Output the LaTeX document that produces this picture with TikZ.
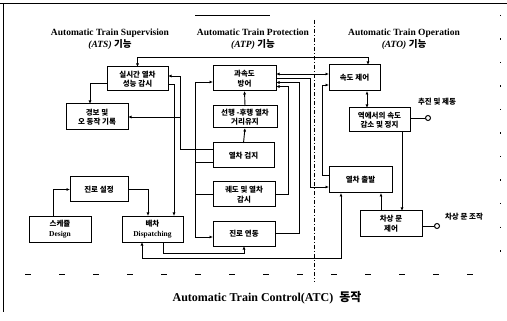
\documentclass[tikz,border=0pt]{standalone}
\usepackage{fontspec}
\setmainfont{Liberation Serif}
\newfontfamily\kr{Noto Sans CJK KR}
\usetikzlibrary{calc,arrows.meta}
\begin{document}
\begin{tikzpicture}[x=1pt,y=-1pt,
  box/.style={draw,line width=1pt,inner sep=0pt,outer sep=0pt,align=center,font=\kr\bfseries\fontsize{7.5}{9.5}\selectfont},
  conn/.style={line width=0.9pt},
  >={Latex[length=3.5pt,width=3pt]},
  circ/.style={circle,draw,line width=1pt,fill=white,minimum size=5pt,inner sep=0pt},
  hdr/.style={align=center,font=\bfseries\fontsize{9.5}{12}\selectfont},
  lbl/.style={font=\kr\bfseries\fontsize{7.5}{9}\selectfont}]
\useasboundingbox (0,0) rectangle (507,321);
% frame
\draw[line width=1pt] (0,4) -- (507,4);
\draw[line width=0.8pt] (3,4) -- (3,312);
\draw[line width=0.8pt,dash pattern=on 1.5pt off 22pt] (500,15) -- (500,270);
\draw[line width=0.8pt,dash pattern=on 6pt off 28pt] (25,274) -- (485,274);
\draw[line width=0.7pt,dash pattern=on 4pt off 2pt on 1pt off 2pt] (314,20) -- (314,282);
\draw[line width=0.4pt] (195,15) -- (270,15);
% headers
\node[hdr] (h1) at (110,39) {Automatic Train Supervision\\{\itshape (ATS)} {\kr 기능}};
\node[hdr] (h2) at (253,39) {Automatic Train Protection\\{\itshape (ATP)} {\kr 기능}};
\node[hdr] (h3) at (404,39) {Automatic Train Operation\\{\itshape (ATO)} {\kr 기능}};
\node[font=\bfseries\fontsize{12}{14}\selectfont] (tt) at (267,298) {Automatic Train Control(ATC)\ \ {\kr 동작}};
% boxes
\node[box,minimum width=61pt,minimum height=24pt] (n1) at (137.5,79) {실시간 열차\\성능 감시};
\node[box,minimum width=62pt,minimum height=26pt] (n2) at (97,117) {경보 및\\오 동작 기록};
\node[box,minimum width=63pt,minimum height=25pt] (n3) at (244.5,78.5) {과속도\\방어};
\node[box,minimum width=64pt,minimum height=22pt] (n4) at (245,117) {선행 -후행 열차\\거리유지};
\node[box,minimum width=51pt,minimum height=26pt] (n5) at (354.5,78) {속도 제어};
\node[box,minimum width=61pt,minimum height=24pt] (n6) at (379.5,120) {역에서의 속도\\감소 및 정지};
\node[box,minimum width=61pt,minimum height=25pt] (n7) at (243.5,155.5) {열차 검지};
\node[box,minimum width=62pt,minimum height=25pt] (n8) at (244,194.5) {궤도 및 열차\\감시};
\node[box,minimum width=62pt,minimum height=25pt] (n9) at (244,233.5) {진로 연동};
\node[box,minimum width=58pt,minimum height=25pt] (n10) at (99,189.5) {진로 설정};
\node[box,minimum width=62pt,minimum height=26pt] (n11) at (60,229) {스케쥴\\{\rmfamily\bfseries Design}};
\node[box,minimum width=61pt,minimum height=26pt] (n12) at (152.5,229) {배차\\{\rmfamily\bfseries Dispatching}};
\node[box,minimum width=63pt,minimum height=26pt] (n13) at (360.5,180) {열차 출발};
\node[box,minimum width=62pt,minimum height=25pt] (n14) at (391,223.5) {차상 문\\제어};
% outputs
\node[circ] (c1) at (428,118) {};
\node[circ] (c2) at (437,226) {};
\node[lbl] (l1) at (437,102) {추진 및 제동};
\node[lbl] (l2) at (464,217) {차상 문 조작};
\draw[conn] (c1.west) -- (c1.west -| n6.east);
\draw[conn] (c2.west) -- (c2.west -| n14.east);
% ATS connectors
\draw[conn,<->] (n1.north) -- ++(0,-10) -| ($(n5.north)+(13.5,0)$);
\draw[conn,->] ($(n1.west)+(0,4)$) -| ($(n2.north)+(-7,0)$);
\draw[conn,->] ($(n7.west)+(0,-6)$) -- ++(-33,0) |- ($(n1.east)+(0,-3)$);
\coordinate (jA) at (180,117);
\draw[conn,->] (jA) -- (n2.east);
\draw[conn,->] ($(n1.east)+(0,5)$) -| ($(n12.north)+(21.5,0)$);
\draw[conn,->] (n10.east) -| ($(n12.north)+(-4.5,0)$);
\draw[conn,->] ($(n11.north)+(-7,0)$) |- (n10.west);
\draw[conn,->] ($(n12.south)+(10.5,0)$) -- ++(0,11) -| (n9.south);
\draw[conn,<->] ($(n12.south)+(-10.5,0)$) -- ++(0,16) -| ($(n13.south)+(-19.5,0)$);
% ATP connectors
\coordinate (bt) at (195,82);
\coordinate (bb) at (195,237);
\draw[conn] (bt) -- (bb);
\draw[conn,->] (bt) -- (bt -| n3.west);
\draw[conn,->] (bb) -- (bb -| n9.west);
\draw[conn] ($(n7.west)+(0,6.5)$) -- ++(-18,0);
\draw[conn] (n8.west) -- ++(-18,0);
\draw[conn,->] (n7.north) -- (n4.south);
\draw[conn,->] (n4.north) -- (n3.south);
\draw[conn,<->] ([yshift=4.5pt]n3.east) -- ([yshift=4.5pt]n3.east -| n5.west);
\draw[conn,->] (n3.east) -- ++(34,0) |- ($(n13.west)+(0,7)$);
\draw[conn,->] (n9.east) -- ++(24,0) |- ($(n3.east)+(0,4)$);
\draw[conn,->] (n8.east) -- ++(13,0) |- ($(n3.east)+(0,8)$);
% ATO connectors
\draw[conn,->] ($(n13.west)+(0,-5)$) -- ++(-7,0) |- ($(n5.west)+(0,7)$);
\draw[conn,<->] ([xshift=12.5pt]n5.south) -- ([xshift=12.5pt]n5.south |- n6.north);
\draw[conn,->] ([xshift=22.5pt]n6.south) -- ([xshift=22.5pt]n6.south |- n14.north);
\draw[conn,->] ([xshift=-10pt]n14.north) -- ([xshift=-10pt]n14.north |- n13.south);
\end{tikzpicture}
\end{document}
